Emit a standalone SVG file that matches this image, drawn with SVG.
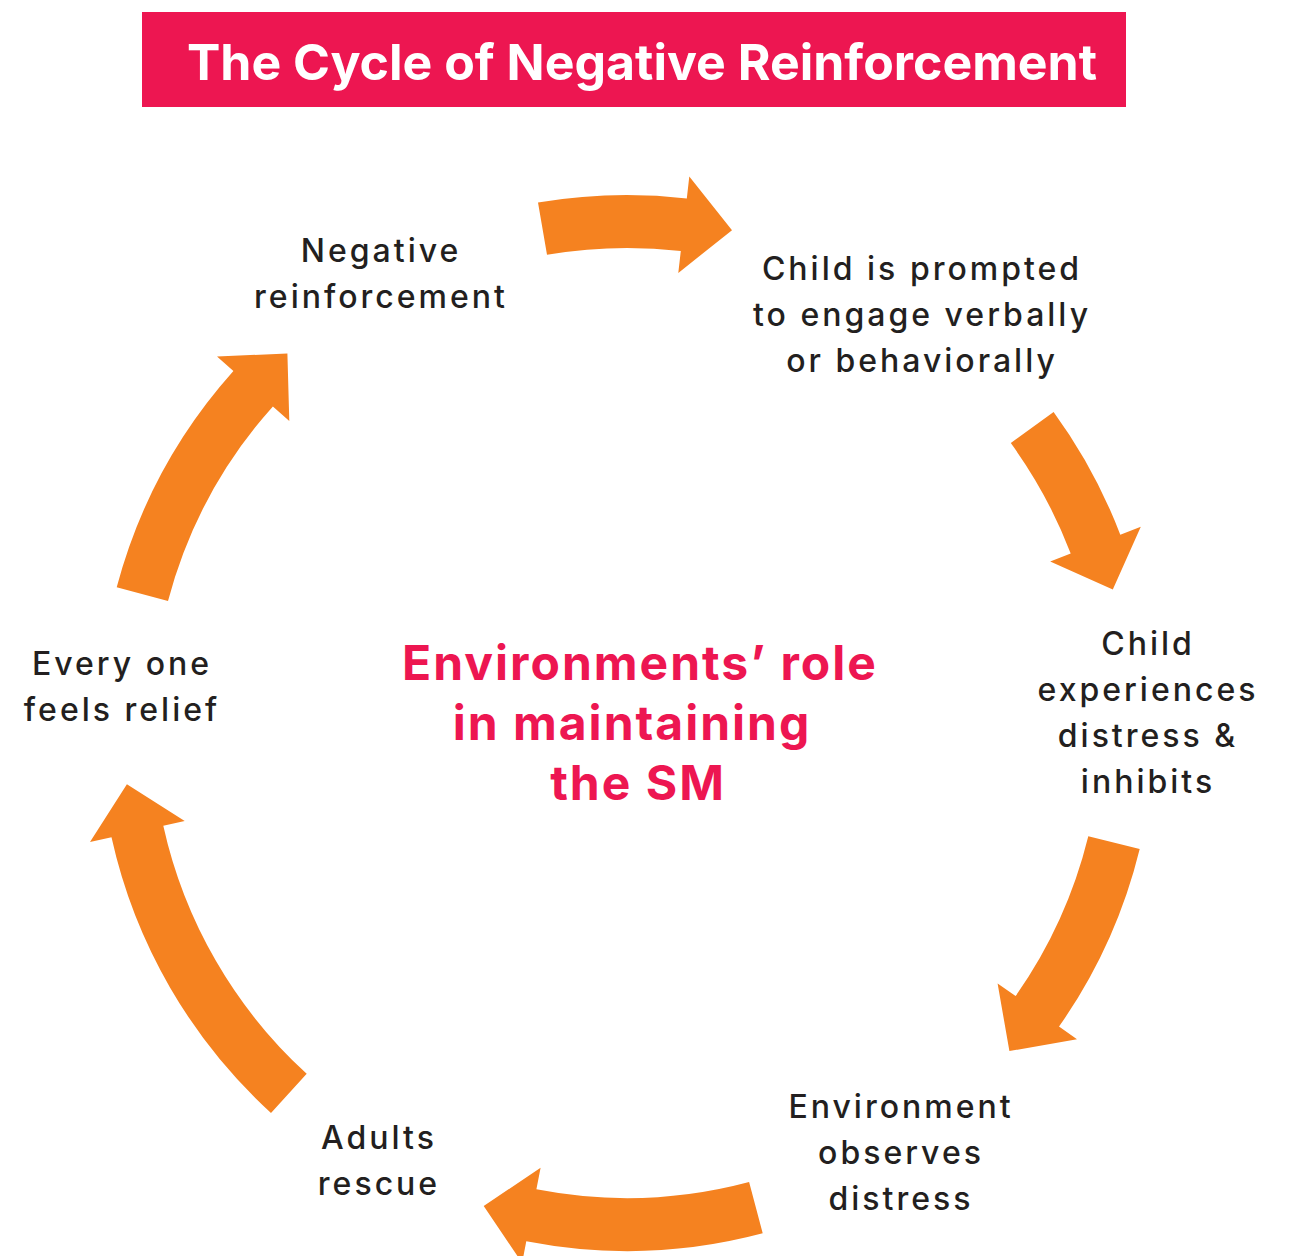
<svg xmlns="http://www.w3.org/2000/svg" width="1297" height="1256" viewBox="0 0 1297 1256">
<style>
.arrow{fill:#F58220;}
.lbl{font-family:Inter,"Noto Sans","Liberation Sans",sans-serif;font-weight:500;font-size:32px;letter-spacing:3px;fill:#231F20;text-anchor:middle;}
.center{font-family:Inter,"Liberation Sans",sans-serif;font-weight:700;font-size:48px;letter-spacing:2px;fill:#ED1651;text-anchor:middle;}
.title{font-family:Inter,"Liberation Sans",sans-serif;font-weight:700;font-size:50px;fill:#FFFFFF;text-anchor:middle;}
</style>
<rect width="1297" height="1256" fill="#FFFFFF"/>
<g id="title">
<rect x="142" y="12" width="984" height="95" fill="#ED1651"/>
<text class="title" x="642" y="80">The Cycle of Negative Reinforcement</text>
</g>
<g id="connectors">
<path class="arrow" d="M538.0,202.5 A528,528 0 0 1 686.8,198.4 L689.3,176.5 L732.0,230.2 L678.3,272.9 L680.8,251.0 A475,475 0 0 0 547.0,254.8 Z"/>
<path class="arrow" d="M1053.6,411.9 A528,528 0 0 1 1120.3,534.7 L1140.8,526.8 L1112.8,589.4 L1050.2,561.4 L1070.7,553.6 A475,475 0 0 0 1010.8,443.1 Z"/>
<path class="arrow" d="M1139.7,848.9 A528,528 0 0 1 1059.0,1026.6 L1077.0,1039.3 L1009.4,1051.1 L997.6,983.5 L1015.6,996.1 A475,475 0 0 0 1088.3,836.3 Z"/>
<path class="arrow" d="M762.7,1233.3 A528,528 0 0 1 526.3,1241.3 L522.1,1262.9 L483.7,1206.0 L540.6,1167.7 L536.4,1189.3 A475,475 0 0 0 749.1,1182.0 Z"/>
<path class="arrow" d="M271.0,1112.9 A528,528 0 0 1 111.5,837.3 L90.0,842.0 L126.9,784.2 L184.7,821.0 L163.3,825.8 A475,475 0 0 0 306.7,1073.8 Z"/>
<path class="arrow" d="M116.7,587.3 A528,528 0 0 1 233.4,371.1 L217.0,356.4 L287.4,353.6 L289.3,421.1 L272.9,406.4 A475,475 0 0 0 168.0,600.9 Z"/>
</g>
<g id="node-negative-reinforcement">
<text class="lbl" x="381" y="262">Negative</text>
<text class="lbl" x="381" y="308">reinforcement</text>
</g>
<g id="node-child-prompted">
<text class="lbl" x="922" y="280">Child is prompted</text>
<text class="lbl" x="922" y="326">to engage verbally</text>
<text class="lbl" x="922" y="372">or behaviorally</text>
</g>
<g id="node-child-distress">
<text class="lbl" x="1148" y="655">Child</text>
<text class="lbl" x="1148" y="701">experiences</text>
<text class="lbl" x="1148" y="747">distress &amp;</text>
<text class="lbl" x="1148" y="793">inhibits</text>
</g>
<g id="node-environment-observes">
<text class="lbl" x="901" y="1118">Environment</text>
<text class="lbl" x="901" y="1164">observes</text>
<text class="lbl" x="901" y="1210">distress</text>
</g>
<g id="node-adults-rescue">
<text class="lbl" x="379" y="1149">Adults</text>
<text class="lbl" x="379" y="1195">rescue</text>
</g>
<g id="node-relief">
<text class="lbl" x="122" y="675">Every one</text>
<text class="lbl" x="122" y="721">feels relief</text>
</g>
<g id="center-label">
<text class="center" x="640" y="680">Environments’ role</text>
<text class="center" x="632" y="740">in maintaining</text>
<text class="center" x="638" y="800">the SM</text>
</g>
</svg>
